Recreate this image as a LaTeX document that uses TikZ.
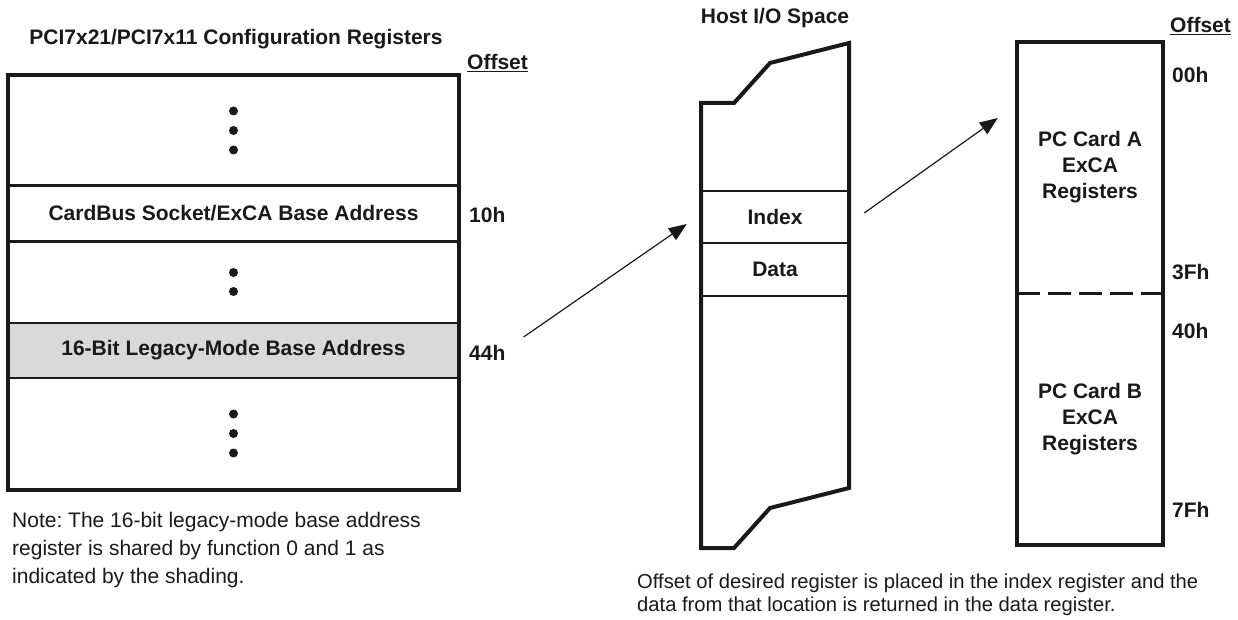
\documentclass[tikz,border=0pt]{standalone}
\usepackage{fontspec}
\setmainfont{Liberation Sans}
\usetikzlibrary{arrows.meta,positioning}
\frenchspacing

\begin{document}
\begin{tikzpicture}[x=1pt,y=-1pt,
        every node/.style={font=\fontsize{21}{28}\selectfont,inner sep=0pt,text=black!90},
        boldText/.style={font=\fontsize{21}{26}\selectfont\bfseries},
        regRow/.style={draw=black!90,line width=2.5pt,minimum width=449pt,font=\fontsize{21}{26}\selectfont\bfseries},
        ioRow/.style={draw=black!90,line width=2.5pt,minimum width=148pt,font=\fontsize{21}{26}\selectfont\bfseries},
        cardPart/.style={minimum width=146pt,minimum height=251.5pt,align=center,font=\fontsize{21}{26}\selectfont\bfseries},
        outerLine/.style={draw=black!90,line width=4pt,line join=miter},
        arrowLine/.style={draw=black!90,line width=1.2pt,-{Triangle[length=18pt,width=14pt]}},
        dotMark/.style={fill=black!90}
        ]
        \useasboundingbox (0,0) rectangle (1238,620);
        % left register column
        \node[boldText] (regTitle) at (236,39) {PCI7x21/PCI7x11 Configuration Registers};
        \node[boldText,anchor=west] (offLeft) at (467,63) {\underline{Offset}};
        \node[regRow,minimum height=109pt] (rowTop) at (233.5,130.5) {};
        \node[regRow,minimum height=56pt] (rowCard) at (233.5,213.5) {CardBus Socket/ExCA Base Address};
        \node[regRow,minimum height=82pt] (rowMid) at (233.5,282) {};
        \node[regRow,minimum height=55pt,fill=gray!30] (rowLegacy) at (233.5,350.5) {16-Bit Legacy-Mode Base Address};
        \node[regRow,minimum height=111pt] (rowBot) at (233.5,433.5) {};
        \draw[outerLine] (rowTop.north west) rectangle (rowBot.south east);
        \foreach \dy in {-19.5,0,19.5} {
            \fill[dotMark] ([yshift=\dy pt]rowTop.center) circle (4.5pt);
            \fill[dotMark] ([yshift=\dy pt]rowBot.center) circle (4.5pt);
        }
        \foreach \dy in {-9.5,9.5}
            \fill[dotMark] ([yshift=\dy pt]rowMid.center) circle (4.5pt);
        \node[boldText,anchor=west] (off10) at (469,215) {10h};
        \node[boldText,anchor=west] (off44) at (469,353) {44h};
        \node[anchor=west,align=left] (noteText) at (12,550) {Note: The 16-bit legacy-mode base address\\register is shared by function 0 and 1 as\\indicated by the shading.};
        % host I/O space
        \node[boldText] (hostTitle) at (775,18) {Host I/O Space};
        \node[ioRow,minimum height=52pt] (index) at (775,217) {Index};
        \node[ioRow,minimum height=53pt] (data) at (775,269.5) {Data};
        \draw[outerLine] (701,103) -- (734,103) -- (770,63) -- (849,43) -- (849,488)
            -- (770,508) -- (734,548) -- (701,548) -- cycle;
        % ExCA registers
        \node[boldText,anchor=west] (offRight) at (1170,26) {\underline{Offset}};
        \node[cardPart] (cardA) at (1090,167.5) {PC Card A\\ExCA\\Registers};
        \node[cardPart] (cardB) at (1090,419) {PC Card B\\ExCA\\Registers};
        \draw[outerLine] (cardA.north west) rectangle (cardB.south east);
        \draw[draw=black!90,line width=2.5pt,dash pattern=on 23pt off 8pt] (cardA.south west) -- (cardA.south east);
        \node[boldText,anchor=west] (off00) at (1172,75) {00h};
        \node[boldText,anchor=west] (off3F) at (1172,272) {3Fh};
        \node[boldText,anchor=west] (off40) at (1172,331) {40h};
        \node[boldText,anchor=west] (off7F) at (1172,510) {7Fh};
        \node[anchor=west,align=left,font=\fontsize{20.2}{23}\selectfont] (indexNote) at (637,594.5) {Offset of desired register is placed in the index register and the\\data from that location is returned in the data register.};
        % arrows
        \draw[arrowLine] ([shift={(18,-16)}]off44.east) -- ([shift={(-13,7)}]index.west);
        \draw[arrowLine] ([shift={(14,-4)}]index.east) -- ([shift={(-19,-49.5)}]cardA.west);
    \end{tikzpicture}
\end{document}
